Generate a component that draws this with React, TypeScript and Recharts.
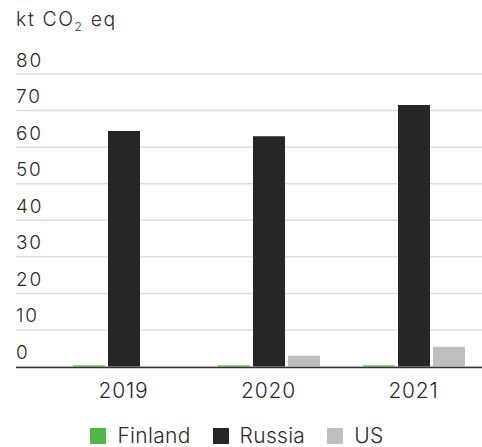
import { BarChart, Bar, XAxis, YAxis, CartesianGrid, Legend } from "recharts";

const years = ["2019", "2020", "2021"];
const finland = [0.3, 0.3, 0.3];
const russia = [64.4, 63.0, 71.5];
const us = [0, 2.95, 5.4];
const yTicks = [0, 10, 20, 30, 40, 50, 60, 70, 80];

const FONT = "Inter, 'Noto Sans', sans-serif";
const TEXT = "#2b2b2b";

const series = [
  { key: "Finland", color: "#4db848" },
  { key: "Russia", color: "#262626" },
  { key: "US", color: "#bfbfbf" },
];

const chartData = years.map((year, i) => ({
  name: year,
  Finland: finland[i],
  Russia: russia[i],
  US: us[i],
}));

const YTick = (props: any) => {
  const { y, payload } = props;
  return (
    <text x={16} y={y - 7.5} fill={TEXT} fontSize={19} fontWeight={300} letterSpacing={1.8} fontFamily={FONT} textAnchor="start">
      {payload.value}
    </text>
  );
};

const XTick = (props: any) => {
  const { x, y, payload } = props;
  return (
    <text x={x} y={y + 31} fill={TEXT} fontSize={21} fontWeight={300} letterSpacing={0.8} fontFamily={FONT} textAnchor="middle">
      {payload.value}
    </text>
  );
};

const UnitLabel = () => (
  <text x={16} y={26} fill={TEXT} fontSize={19.5} fontWeight={300} letterSpacing={1.6} fontFamily={FONT} textAnchor="start">
    kt CO
    <tspan fontSize={12} dy={5}>2</tspan>
    <tspan dy={-5}> eq</tspan>
  </text>
);

const LegendContent = () => (
  <div
    style={{
      height: 40,
      display: "flex",
      justifyContent: "center",
      alignItems: "flex-end",
      paddingBottom: 3,
      paddingRight: 27,
      boxSizing: "border-box",
      fontFamily: FONT,
      fontSize: 21,
      fontWeight: 300,
      letterSpacing: 0.3,
      color: TEXT,
    }}
  >
    {series.map((s) => (
      <div key={s.key} style={{ display: "flex", alignItems: "flex-end", margin: "0 11px" }}>
        <span style={{ display: "inline-block", width: 16, height: 16, background: s.color, marginRight: 11 }} />
        <span style={{ lineHeight: "16px" }}>{s.key}</span>
      </div>
    ))}
  </div>
);

const App = () => {
  return (
    <div style={{ position: "absolute", left: 0, top: 0, width: 482, height: 447, overflow: "hidden", background: "#fff" }}>
      <BarChart
        width={490}
        height={447}
        data={chartData}
        margin={{ top: 74, right: 4, left: 15, bottom: 0 }}
        barSize={32}
        barGap={3}
      >
        <CartesianGrid vertical={false} stroke="#dedede" strokeWidth={1.5} />
        <XAxis
          dataKey="name"
          height={40.5}
          padding={{ left: 35, right: 0 }}
          tickLine={false}
          tickSize={0}
          tickMargin={0}
          axisLine={{ stroke: "#333", strokeWidth: 1.5, transform: "translate(0,1)" }}
          tick={<XTick />}
        />
        <YAxis
          width={1}
          domain={[0, 80]}
          ticks={yTicks}
          interval={0}
          axisLine={false}
          tickLine={false}
          tick={<YTick />}
          label={<UnitLabel />}
        />
        <Legend verticalAlign="bottom" content={<LegendContent />} />
        {series.map((s) => (
          <Bar key={s.key} dataKey={s.key} fill={s.color} isAnimationActive={false} />
        ))}
      </BarChart>
    </div>
  );
};

export default App;
